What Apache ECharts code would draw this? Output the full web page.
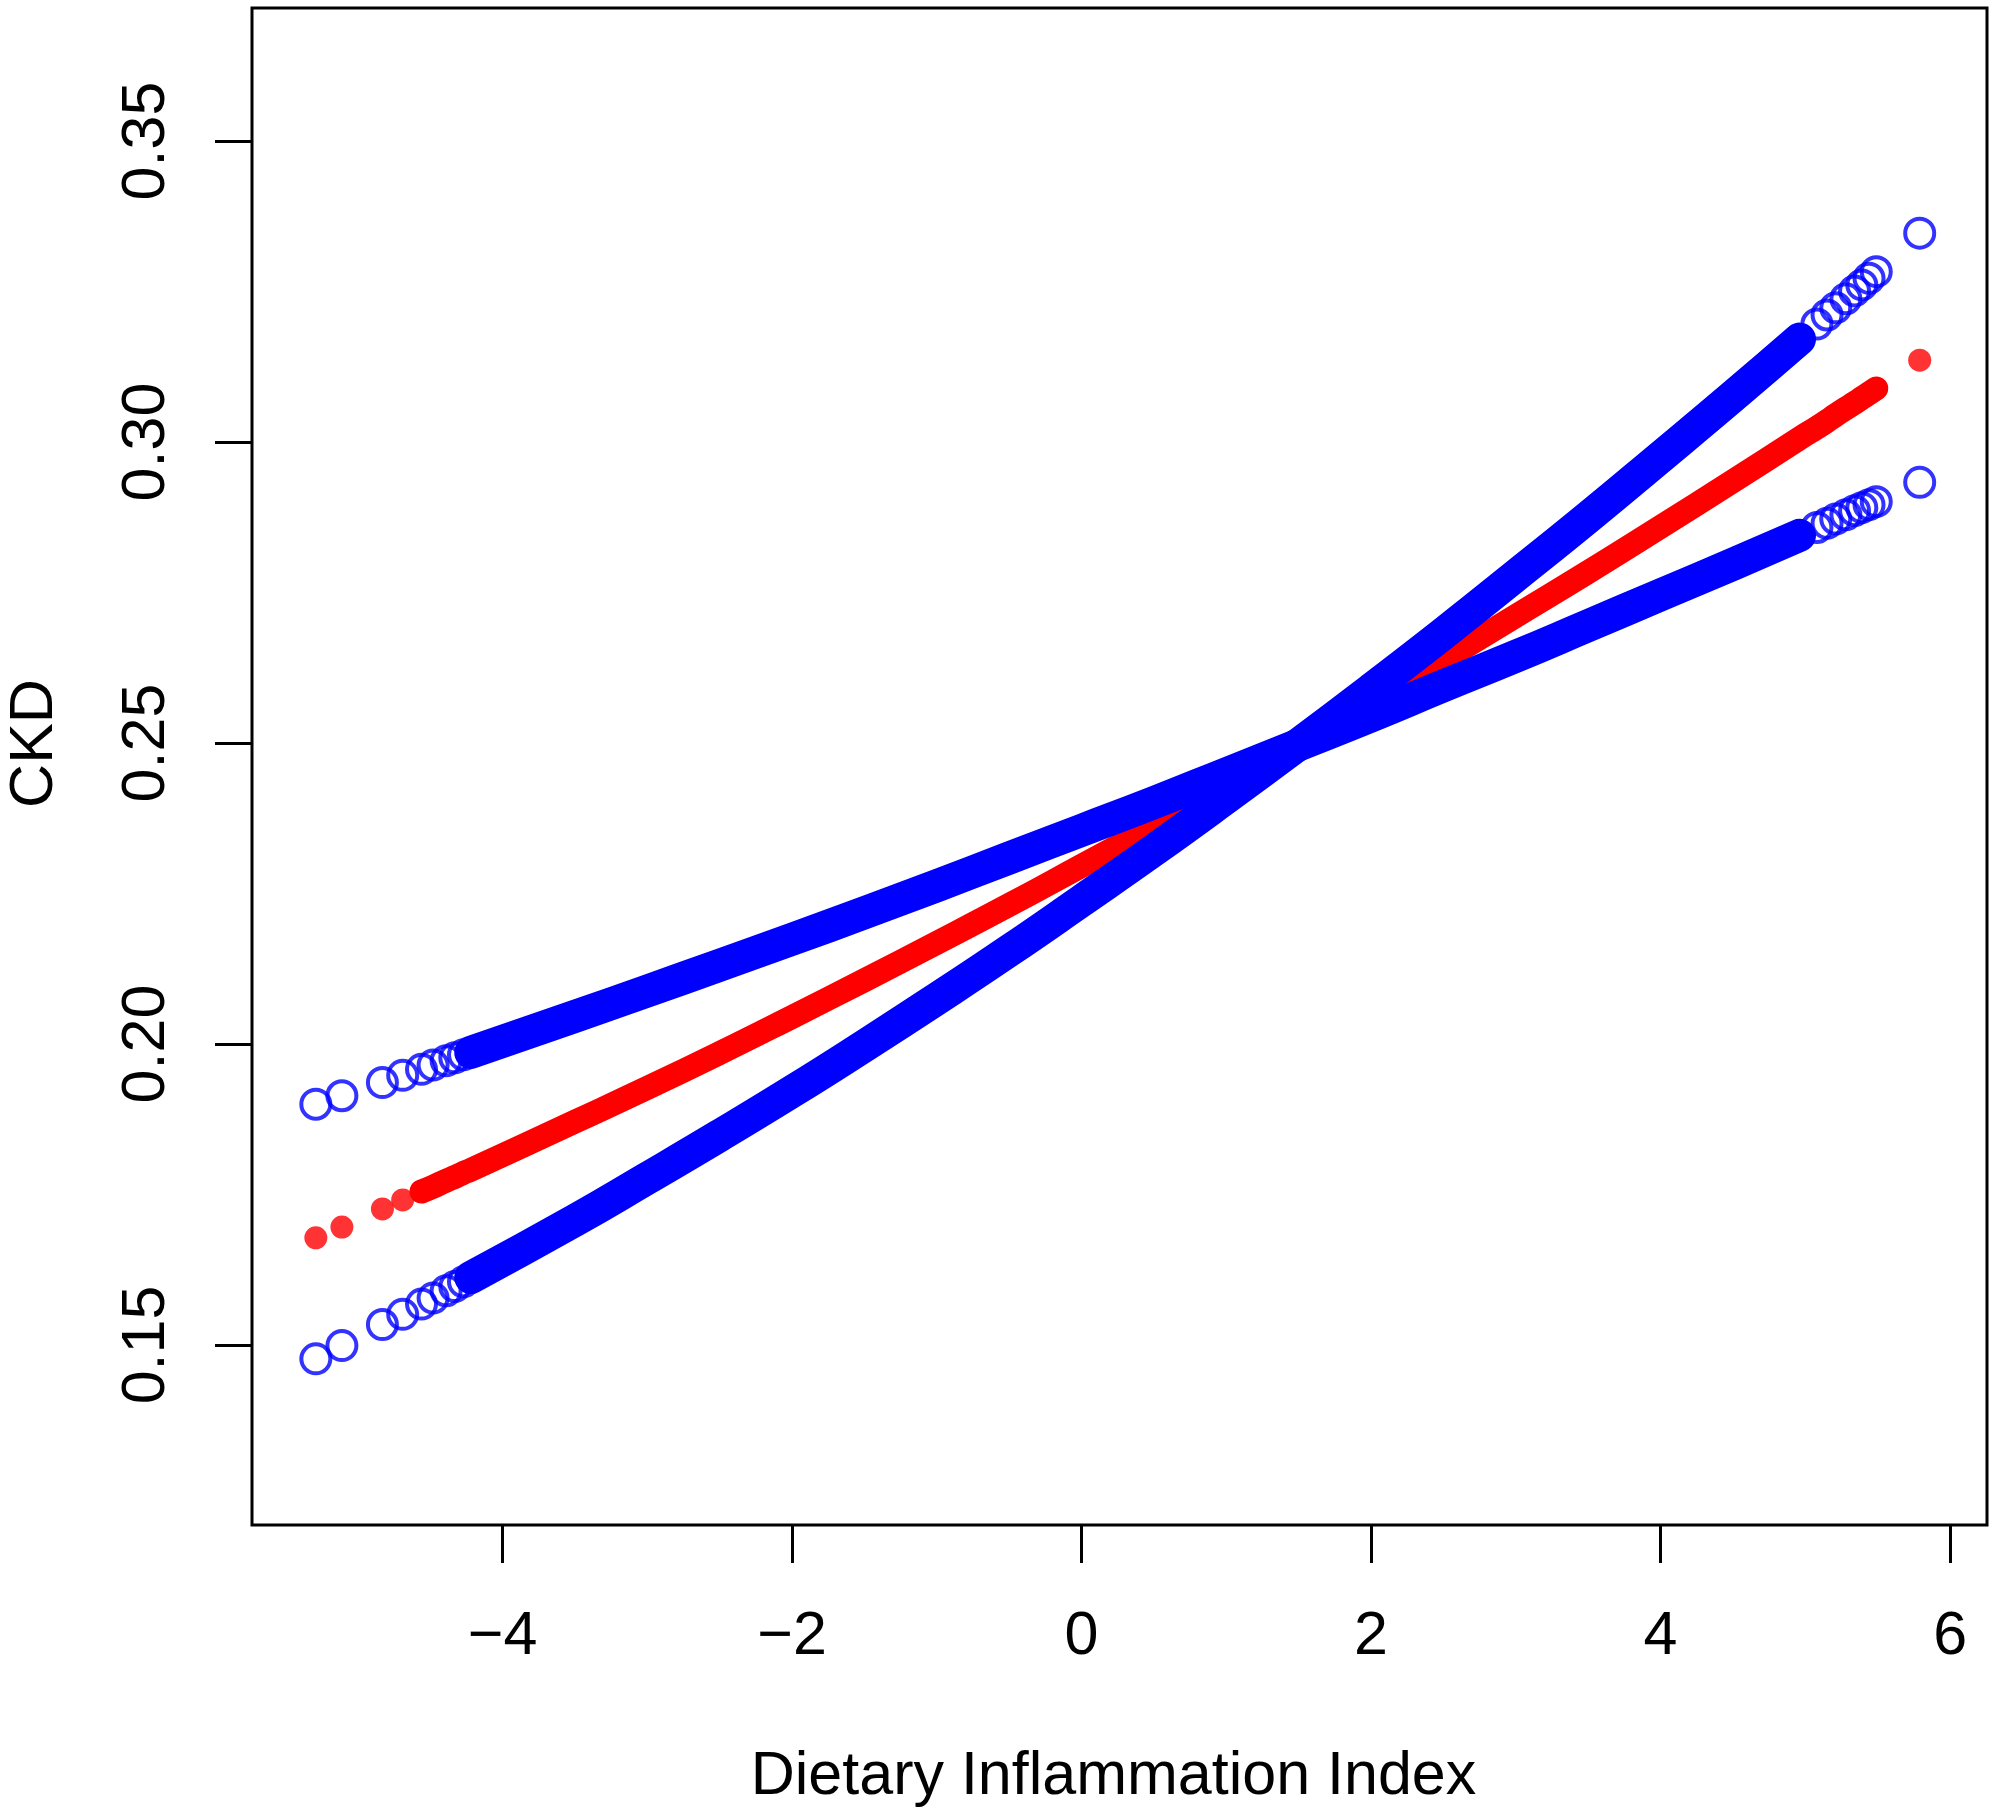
<!DOCTYPE html>
<html lang="en">
<head>
    <meta charset="UTF-8">
    <title>CKD vs Dietary Inflammation Index</title>
    <script src="https://cdn.jsdelivr.net/npm/echarts@6/dist/echarts.min.js"></script>
    <style>
        html, body { margin: 0; padding: 0; background: #fff; }
        #chart { width: 1995px; height: 1815px; }
    </style>
</head>
<body>
    <div id="chart"></div>
    <script>
        // DII values where single points are visible (left tail, right tail)
        const sparseX = [-5.29, -5.11, -4.83, -4.69, -4.56, -4.48, -4.39, -4.33, -4.27,
            5.08, 5.15, 5.21, 5.28, 5.34, 5.39, 5.44, 5.49, 5.79];
        // DII values along the dense middle part, where the points merge into a band
        const denseX = [-4.22, -3.5, -3.0, -2.5, -2.0, -1.5, -1.0, -0.5, 0, 0.5, 1.0,
            1.5, 2.0, 2.5, 3.0, 3.5, 4.0, 4.5, 4.96];

        // predicted CKD probability (red)
        const fitSparse = [0.1678, 0.1696, 0.1726, 0.1741, 0.1755, 0.1763, 0.1773, 0.1779, 0.1786,
            0.3024, 0.3035, 0.3045, 0.3056, 0.3065, 0.3073, 0.3081, 0.3089, 0.3136];
        const fitDense = [0.1791, 0.1871, 0.1927, 0.1985, 0.2045, 0.2106, 0.2168, 0.2231, 0.2296,
            0.2361, 0.2429, 0.2497, 0.2567, 0.2638, 0.2711, 0.2784, 0.2859, 0.2935, 0.3006];

        // confidence bound, high on the left (blue)
        const ciFlatSparse = [0.1900, 0.1914, 0.1936, 0.1948, 0.1958, 0.1965, 0.1972, 0.1977, 0.1982,
            0.2858, 0.2865, 0.2872, 0.2879, 0.2886, 0.2891, 0.2896, 0.2901, 0.2933];
        const ciFlatDense = [0.1986, 0.2046, 0.2088, 0.2131, 0.2174, 0.2218, 0.2263, 0.2309, 0.2355,
            0.2401, 0.2449, 0.2497, 0.2545, 0.2595, 0.2644, 0.2695, 0.2746, 0.2797, 0.2845];

        // confidence bound, low on the left (blue)
        const ciSteepSparse = [0.1477, 0.1499, 0.1534, 0.1551, 0.1568, 0.1578, 0.1590, 0.1597, 0.1605,
            0.3196, 0.3211, 0.3223, 0.3238, 0.3251, 0.3261, 0.3272, 0.3283, 0.3347];
        const ciSteepDense = [0.1612, 0.1707, 0.1777, 0.1848, 0.1921, 0.1997, 0.2075, 0.2155, 0.2238,
            0.2322, 0.2409, 0.2498, 0.2589, 0.2682, 0.2778, 0.2875, 0.2975, 0.3076, 0.3171];

        const xTicks = [-4, -2, 0, 2, 4, 6];
        const yTicks = [0.15, 0.20, 0.25, 0.30, 0.35];

        const FONT = "'Liberation Sans', Arial, Helvetica, sans-serif";
        const BLUE = '#0000ff';
        const RED = '#ff0000';

        function pairs(xs, ys) {
            return xs.map((x, i) => [x, ys[i]]);
        }

        function band(data, color, width) {
            return {
                type: 'line',
                data: data,
                showSymbol: false,
                smooth: true,
                lineStyle: { color: color, width: width, cap: 'round', join: 'round' },
                silent: true
            };
        }

        function hollow(xs, ys) {
            return {
                type: 'scatter',
                data: pairs(xs, ys),
                symbol: 'circle',
                symbolSize: 29,
                itemStyle: { color: 'rgba(0,0,0,0)', borderColor: BLUE, borderWidth: 4 },
                silent: true
            };
        }

        // the red dots already overlap from about -4.56 up to 5.49
        let redBand = pairs(sparseX.slice(4, 9), fitSparse.slice(4, 9))
            .concat(pairs(denseX, fitDense))
            .concat(pairs(sparseX.slice(9, 17), fitSparse.slice(9, 17)));

        let chart = echarts.init(document.getElementById('chart'));
        let option = {
            animation: false,
            backgroundColor: '#fff',
            grid: {
                left: 252, top: 8, width: 1735, height: 1517,
                outerBoundsMode: 'none',
                containLabel: false,
                show: true, borderColor: '#000', borderWidth: 3, backgroundColor: 'transparent'
            },
            xAxis: {
                type: 'value',
                min: -5.731, max: 6.255,
                name: 'Dietary Inflammation Index',
                nameLocation: 'middle',
                nameGap: 222,
                nameTextStyle: { color: '#000', fontSize: 61, fontFamily: FONT, padding: [0, 12, 0, 0] },
                axisLine: { show: false, onZero: false },
                splitLine: { show: false },
                axisTick: {
                    show: true, inside: false, length: 38,
                    customValues: xTicks,
                    lineStyle: { color: '#000', width: 3 }
                },
                axisLabel: {
                    customValues: xTicks,
                    margin: 82,
                    color: '#000', fontSize: 61, fontFamily: FONT,
                    formatter: v => (v < 0 ? '\u2212' + Math.abs(v) : String(v))
                }
            },
            yAxis: {
                type: 'value',
                min: 0.1201, max: 0.3721,
                name: 'CKD',
                nameLocation: 'middle',
                nameGap: 186,
                nameRotate: 90,
                nameTextStyle: { color: '#000', fontSize: 61, fontFamily: FONT, padding: [0, 0, 0, 46] },
                axisLine: { show: false, onZero: false },
                splitLine: { show: false },
                axisTick: {
                    show: true, inside: false, length: 37,
                    customValues: yTicks,
                    lineStyle: { color: '#000', width: 3 }
                },
                axisLabel: {
                    customValues: yTicks,
                    rotate: 90,
                    margin: 74,
                    color: '#000', fontSize: 61, fontFamily: FONT,
                    formatter: v => v.toFixed(2)
                }
            },
            series: [
                band(redBand, RED, 24),
                {
                    type: 'scatter',
                    data: pairs(sparseX, fitSparse),
                    symbol: 'circle',
                    symbolSize: 23,
                    itemStyle: { color: RED },
                    silent: true
                },
                band(pairs(denseX, ciFlatDense), BLUE, 33),
                hollow(sparseX, ciFlatSparse),
                band(pairs(denseX, ciSteepDense), BLUE, 33),
                hollow(sparseX, ciSteepSparse)
            ]
        };
        chart.setOption(option);
    </script>
</body>
</html>
